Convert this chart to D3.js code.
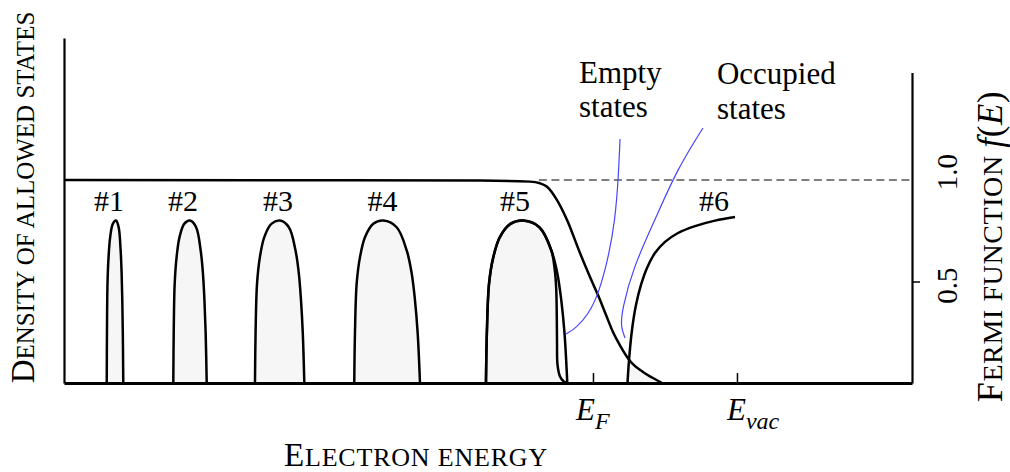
<!DOCTYPE html>
<html><head><meta charset="utf-8">
<script src="https://cdn.jsdelivr.net/npm/d3@7"></script>
<style>
body{margin:0;background:#fff}
svg{display:block}
text{font-family:"Liberation Serif","Times New Roman",serif;fill:#000}
</style>
</head><body>
<svg id="c" width="1010" height="472"></svg>
<script>
// ---------- data (energy in arbitrary units, density / occupation in units of f) ----------
const bandNames  = ["#1","#2","#3","#4","#5"];
const bandStart  = [0.504, 1.289, 2.252, 3.423, 4.976];
const bandPeak   = [0.613, 1.486, 2.547, 3.765, 5.416];
const bandEnd    = [0.699, 1.683, 2.834, 4.198, 5.935];
const bandHeight = [0.80, 0.80, 0.80, 0.80, 0.80];
const bandLabelE = [0.531, 1.403, 2.524, 3.756, 5.318];
// normalised band profile (rising edge, falling edge)
const riseU = [0, 0.024, 0.083, 0.197, 0.369, 0.655, 1];
const riseH = [0, 0.307, 0.613, 0.775, 0.897, 0.980, 1];
const fallU = [1, 0.635, 0.362, 0.226, 0.136, 0.063, 0];
const fallH = [1, 0.959, 0.816, 0.675, 0.509, 0.307, 0];
// band #5 occupied-state edge after it leaves the band outline
const band5OccupiedTail = [[5.790,0.547],[5.805,0.458],[5.811,0.335],[5.814,0.197],[5.820,0.089],[5.849,0.032],[5.890,0.009],[5.935,0]];
// band #6 (partial)
const band6 = [[6.645,0],[6.663,0.113],[6.698,0.261],[6.745,0.384],[6.804,0.483],[6.875,0.567],[6.969,0.640],[7.087,0.695],[7.241,0.739],[7.441,0.773],[7.677,0.800],[7.913,0.818]];
const band6Occupied = [[6.645,0],[6.668,0.108],[6.828,0.054],[6.934,0.027],[7.052,0]];
const band6LabelE = 7.665;
// Fermi function f(E)
const fermi = [[0,1],[4.906,0.997],[5.495,0.992],[5.613,0.984],[5.696,0.967],[5.814,0.901],[5.932,0.803],[6.085,0.640],[6.203,0.522],[6.297,0.433],[6.392,0.335],[6.474,0.251],[6.568,0.177],[6.675,0.108],[6.828,0.054],[6.934,0.027],[7.052,0]];
// axis ticks
const energyTicks = [6.238, 7.936];          // E_F, E_vac
const energyTickMain = ["E","E"];
const energyTickSub  = ["F","vac"];
const fermiTicks = [0.5];
const fermiTickLabelValues = [1.0, 0.5];
const fermiTickLabels = ["1.0","0.5"];
// annotation leaders
const emptyLeader    = [[6.557,1.202],[6.536,1.0],[6.498,0.803],[6.427,0.631],[6.309,0.443],[6.179,0.335],[6.038,0.271],[5.920,0.241]];
const occupiedLeader = [[7.535,1.256],[7.225,1.049],[6.969,0.803],[6.713,0.571],[6.580,0.360],[6.565,0.277],[6.616,0.222]];
const emptyText    = ["Empty","states"];
const occupiedText = ["Occupied","states"];

// ---------- drawing ----------
const svg = d3.select("#c");
const x = d3.scaleLinear().domain([0,10]).range([64,912]);
const y = d3.scaleLinear().domain([0,1]).range([383,180]);
const FILL = "#f6f6f6";

const line = d3.line().x(d=>x(d[0])).y(d=>y(d[1])).curve(d3.curveCatmullRom.alpha(0.5));
const monoLine = d3.line().x(d=>x(d[0])).y(d=>y(d[1])).curve(d3.curveMonotoneX);
const basisLine = d3.line().x(d=>x(d[0])).y(d=>y(d[1])).curve(d3.curveBasis);

function bandOutline(i){
  const s=bandStart[i], p=bandPeak[i], e=bandEnd[i], h=bandHeight[i];
  const pts=[];
  riseU.forEach((u,k)=>pts.push([s+u*(p-s), h*riseH[k]]));
  fallU.forEach((u,k)=>{ if(k>0) pts.push([e-u*(e-p), h*fallH[k]]); });
  return pts;
}

// fills
const gBands = svg.append("g");
bandNames.forEach((n,i)=>{
  if(i<4){
    gBands.append("path").attr("d",line(bandOutline(i)))
      .attr("fill",FILL).attr("stroke","#000").attr("stroke-width",2.5);
  }
});
// band 5: occupied part filled, outline on top
{
  const i=4, s=bandStart[i], p=bandPeak[i], e=bandEnd[i], h=bandHeight[i];
  const occ=[];
  riseU.forEach((u,k)=>occ.push([s+u*(p-s), h*riseH[k]]));
  fallU.forEach((u,k)=>{ if(k>0 && u>=0.36) occ.push([e-u*(e-p), h*fallH[k]]); });
  band5OccupiedTail.forEach(d=>occ.push(d));
  gBands.append("path").attr("d",line(occ)).attr("fill",FILL).attr("stroke","#000").attr("stroke-width",2.5);
  gBands.append("path").attr("d",line(bandOutline(i))).attr("fill","none").attr("stroke","#000").attr("stroke-width",2.5);
}
gBands.append("path").attr("d",monoLine(band6Occupied)).attr("fill",FILL).attr("stroke","none");

// dashed f=1 reference
svg.append("line").attr("x1",x(5.6)).attr("x2",x(10)).attr("y1",y(1)).attr("y2",y(1))
  .attr("stroke","#555").attr("stroke-width",1.5).attr("stroke-dasharray","8,4.5");

// Fermi function
svg.append("path").attr("d",monoLine(fermi)).attr("fill","none").attr("stroke","#000").attr("stroke-width",2.5);
// band 6
svg.append("path").attr("d",line(band6)).attr("fill","none").attr("stroke","#000").attr("stroke-width",2.5);

// leaders
[emptyLeader, occupiedLeader].forEach(pts=>{
  svg.append("path").attr("d",basisLine(pts)).attr("fill","none").attr("stroke","#4646ff").attr("stroke-width",1.2);
});

// axes
const yLeft = d3.scaleLinear().domain([0,1.7]).range([y(0), y(1.7)]);
const gL = svg.append("g").attr("transform",`translate(${x(0)},0)`)
  .call(d3.axisLeft(yLeft).tickValues([]).tickSizeOuter(0));
gL.select(".domain").attr("stroke","#000").attr("stroke-width",2.2);

const yRight = d3.scaleLinear().domain([0,1.53]).range([y(0), y(1.53)]);
const gR = svg.append("g").attr("transform",`translate(${x(10)},0)`)
  .call(d3.axisRight(yRight).tickValues(fermiTicks).tickSize(8).tickSizeOuter(0).tickFormat(""));
gR.select(".domain").attr("stroke","#000").attr("stroke-width",2.2);
gR.selectAll(".tick line").attr("stroke","#000").attr("stroke-width",1.5);

const gB = svg.append("g").attr("transform",`translate(0,${y(0)})`)
  .call(d3.axisBottom(x).tickValues(energyTicks).tickSize(-10).tickSizeOuter(0).tickFormat(""));
gB.select(".domain").attr("stroke","#000").attr("stroke-width",3);
gB.selectAll(".tick line").attr("stroke","#000").attr("stroke-width",1.5);

// energy tick labels
const energyLabelShift = [-17, -10];
energyTicks.forEach((v,i)=>{
  const t = svg.append("text").attr("x",x(v)+energyLabelShift[i]).attr("y",420);
  t.append("tspan").attr("font-style","italic").attr("font-size",31).text(energyTickMain[i]);
  t.append("tspan").attr("font-style","italic").attr("font-size",24).attr("dy",9).text(energyTickSub[i]);
});

// fermi tick labels (rotated)
const fermiLabelShift = [-8, 4];
fermiTickLabelValues.forEach((v,i)=>{
  svg.append("text").attr("transform",`translate(957,${y(v)+fermiLabelShift[i]}) rotate(-90)`)
    .attr("text-anchor","middle").attr("font-size",29).text(fermiTickLabels[i]);
});

// band labels
bandNames.forEach((n,i)=>{
  svg.append("text").attr("x",x(bandLabelE[i])).attr("y",y(0.847)).attr("text-anchor","middle")
    .attr("font-size",30).text(n);
});
svg.append("text").attr("x",x(band6LabelE)).attr("y",y(0.847)).attr("text-anchor","middle")
  .attr("font-size",30).text("#6");

// annotation texts
function multiline(lines, e, d0, d1){
  [d0,d1].forEach((d,k)=>{
    svg.append("text").attr("x",x(e)).attr("y",y(d)).attr("font-size",31).text(lines[k]);
  });
}
multiline(emptyText, 6.073, 1.478, 1.310);
multiline(occupiedText, 7.70, 1.473, 1.300);

// axis titles with small caps
function smallCaps(sel, parts){
  parts.forEach(p=>{
    const ts = sel.append("tspan").attr("font-size",p[1]).text(p[0]);
    if(p[2]) ts.attr("font-style","italic");
  });
}
smallCaps(svg.append("text").attr("transform","translate(34,197.5) rotate(-90)").attr("text-anchor","middle"),
  [["D",33],["ENSITY OF ALLOWED STATES",25]]);
smallCaps(svg.append("text").attr("transform","translate(416,466)").attr("text-anchor","middle").attr("letter-spacing",0.8),
  [["E",33],["LECTRON ENERGY",26]]);
smallCaps(svg.append("text").attr("transform","translate(1002,246.5) rotate(-90)").attr("text-anchor","middle").attr("letter-spacing",0.6),
  [["F",36],["ERMI FUNCTION ",28],["f",35,true],["(",35],["E",35,true],[")",35]]);
</script>
</body></html>
